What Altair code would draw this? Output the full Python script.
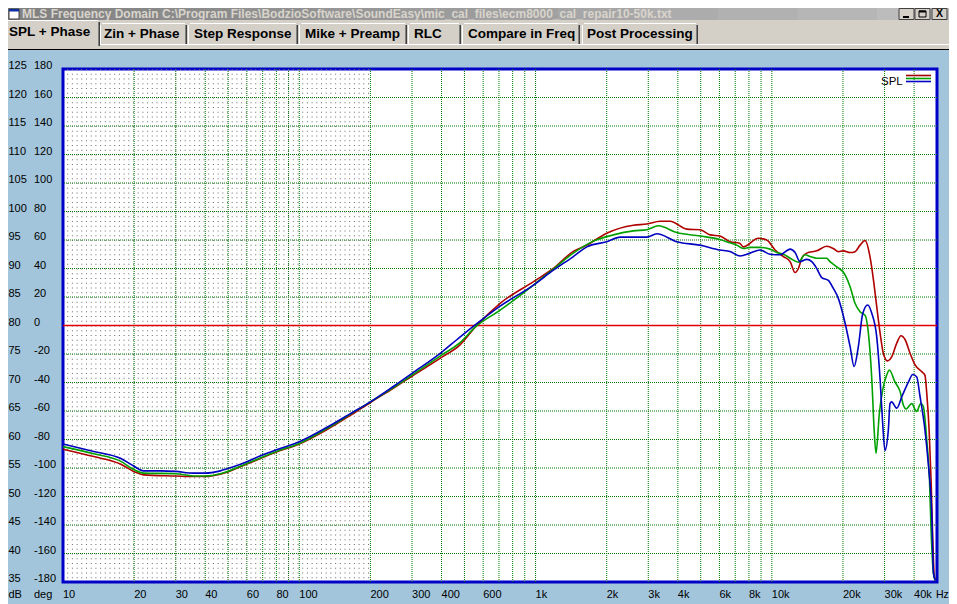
import altair as alt
import pandas as pd
import numpy as np

# ---------------- data ----------------
red_freq = [10, 13.5, 17.5, 20, 21.9, 30, 35.6, 40, 46.3, 60, 80, 100, 130.6, 164, 200,
            250, 300, 400, 479, 555, 708, 980, 1189, 1445, 1648, 2000, 2596, 2959, 3366, 3710,
            4366, 4966, 5483, 6028, 6650, 7330, 7570, 8770, 9510, 10320, 11200, 11950, 12540, 12950, 13380,
            14050, 15490, 17070, 18210, 19100, 20080, 21440, 22500, 23620, 24800, 26020, 27040, 27790, 28730, 29650,
            30850, 32140, 33780, 35170, 36660, 38480, 40380, 43080, 44460, 45250, 46300, 47200, 47950, 48600, 49200]
red_db = [58.3, 57.0, 55.7, 54.35, 53.8, 53.6, 53.5, 53.5, 53.9, 55.7, 57.8, 59.2, 61.7, 64.2, 66.5,
          69.0, 71.1, 74.4, 76.6, 79.7, 83.9, 87.7, 90.0, 93.0, 94.1, 96.2, 97.6, 97.8, 98.3, 98.3,
          96.9, 96.8, 95.9, 95.7, 94.7, 94.4, 93.8, 95.3, 95.0, 93.25, 92.1, 91.2, 89.3, 90.0, 91.8,
          92.7, 93.1, 93.9, 93.5, 92.96, 93.1, 92.8, 92.96, 94.1, 94.9, 92.1, 87.4, 83.3, 78.6, 75.1,
          73.8, 74.5, 76.9, 78.2, 77.5, 75.1, 73.1, 71.9, 71.3, 68.1, 61.7, 52.9, 42.9, 36.5, 35.3]

green_freq = [10, 13.5, 17.5, 20, 21.9, 30, 35.6, 40, 46.3, 60, 80, 100, 130.6, 164, 200,
              250, 300, 400, 479, 555, 708, 980, 1189, 1445, 1758, 2134, 2596, 2959, 3311, 3957,
              4966, 6028, 6650, 7100, 7570, 8090, 8910, 9820, 10490, 11200, 11950, 12950, 13820, 14510, 15490,
              17070, 17630, 18820, 20420, 21440, 22500, 23620, 24800, 25860, 26500, 27100, 27600, 28510, 29450, 30620,
              31410, 33190, 34900, 36050, 37000, 39080, 41000, 42660, 43750, 45250, 46470, 47200, 48300, 49200]
green_db = [58.75, 57.5, 56.2, 54.7, 54.1, 54.0, 53.6, 53.6, 54.0, 55.8, 57.9, 59.3, 61.9, 64.4, 66.6,
            69.1, 71.3, 74.8, 77.0, 79.7, 82.7, 87.1, 89.9, 92.7, 94.8, 95.9, 96.6, 96.8, 97.5, 96.3,
            95.7, 95.1, 94.5, 94.1, 93.5, 93.7, 93.7, 93.4, 92.8, 92.5, 91.8, 91.1, 92.4, 92.1, 91.8,
            91.8, 91.2, 90.3, 88.9, 86.8, 83.9, 82.4, 81.8, 76.9, 70.4, 61.7, 57.6, 64.6, 68.7, 71.3,
            72.2, 70.1, 68.4, 66.0, 65.35, 66.3, 64.9, 66.3, 65.8, 59.9, 52.9, 44.1, 36.5, 35.3]

blue_freq = [10, 13.5, 17.5, 20, 21.9, 25.8, 30, 35.6, 40, 46.3, 52.6, 60, 68.2, 80, 100,
             130.6, 164, 200, 250, 300, 400, 464, 555, 708, 980, 1189, 1445, 1648, 2000, 2281,
             2959, 3258, 3957, 4966, 6028, 6650, 7344, 8090, 8910, 9820, 10840, 11950, 12540, 13150, 14050,
             14760, 15490, 16260, 17340, 18210, 19100, 20420, 21440, 22290, 23230, 24250, 25460, 26500, 27790, 28730,
             29450, 30100, 31120, 31630, 32140, 33780, 35480, 37870, 39470, 41000, 42400, 44460, 45920, 47500, 48300, 49200]
blue_db = [59.2, 57.9, 56.7, 55.3, 54.5, 54.5, 54.4, 54.1, 54.1, 54.5, 55.2, 56.1, 57.1, 58.2, 59.6,
           62.1, 64.5, 66.6, 69.3, 71.6, 75.3, 77.5, 80.1, 83.4, 87.1, 89.7, 92.1, 93.8, 94.7, 95.5,
           95.5, 96.1, 94.7, 94.1, 93.25, 93.0, 92.2, 92.7, 93.25, 92.5, 92.4, 93.4, 92.8, 91.2, 91.6,
           91.2, 90.0, 88.4, 87.9, 86.5, 84.8, 80.4, 76.3, 72.8, 76.3, 82.1, 83.6, 82.1, 78.0, 70.4,
           62.8, 58.1, 61.7, 66.3, 66.6, 65.5, 67.5, 70.1, 71.4, 71.0, 67.5, 61.7, 55.8, 47.0, 36.5, 35.3]

x_ticks = [10, 20, 30, 40, 60, 80, 100, 200, 300, 400, 600, 1000, 2000, 3000, 4000,
           6000, 8000, 10000, 20000, 30000, 40000]
x_tick_labels = ["10", "20", "30", "40", "60", "80", "100", "200", "300", "400", "600", "1k", "2k", "3k", "4k",
                 "6k", "8k", "10k", "20k", "30k", "40k"]
x_grid = [m * 10 ** e for e in (1, 2, 3) for m in range(1, 10)] + [10000, 20000, 30000, 40000]
db_ticks = list(range(35, 130, 5))
deg_labels = [str(v) for v in range(-180, 181, 20)]
tab_labels = ["SPL + Phase", "Zin + Phase", "Step Response", "Mike + Preamp", "RLC",
              "Compare in Freq", "Post Processing"]
window_title = ("MLS Frequency Domain  C:\\Program Files\\BodzioSoftware\\SoundEasy\\"
                "mic_cal_files\\ecm8000_cal_repair10-50k.txt")

# ---------------- layout / style ----------------
X0, Y0 = 63, 69          # absolute page position of the plot origin
W, H = 874, 513
SVG_W, SVG_H = 941, 596  # page is 957 wide with an 8px body margin
FONT = "Liberation Sans"
PANEL = "#a2c5db"
FACE = "#d4d0c8"
GRID = "#007800"

xs = alt.Scale(type="log", domain=[10, 50000], nice=False)
ys = alt.Scale(domain=[35, 125], nice=False, zero=False)
dummy = pd.DataFrame({"k": [0]})


def rect(x0, y0, x1, y1, **kw):
    return alt.Chart(dummy).mark_rect(**kw).encode(
        x=alt.value(x0 - X0), x2=alt.value(x1 - X0), y=alt.value(y0 - Y0), y2=alt.value(y1 - Y0))


def seg(x0, y0, x1, y1, color, w=1):
    return alt.Chart(dummy).mark_rule(color=color, strokeWidth=w).encode(
        x=alt.value(x0 - X0), x2=alt.value(x1 - X0), y=alt.value(y0 - Y0), y2=alt.value(y1 - Y0))


def txt(x, y, s, size=11, weight="normal", color="black", align="left", font=FONT):
    return alt.Chart(dummy).mark_text(text=s, fontSize=size, fontWeight=weight, color=color,
                                      align=align, baseline="middle", font=font).encode(
        x=alt.value(x - X0), y=alt.value(y - Y0))


layers = []
# window chrome
layers.append(rect(0, 0, 957, 49, fill=FACE))
n_strip = 12
for i in range(n_strip):
    c = int(130 + (188 - 130) * i / (n_strip - 1))
    layers.append(rect(957 * i / n_strip, 0, 957 * (i + 1) / n_strip + 0.5, 20,
                       fill="#%02x%02x%02x" % (c, c, c)))
layers.append(rect(9, 9, 19, 19, fill="white", stroke="#404040", strokeWidth=1))
layers.append(rect(9, 9, 19, 11.5, fill="#1030a0"))
layers.append(txt(22, 13.5, window_title, size=12, weight="bold", color="#d8d4cc"))
for bx0, bx1 in [(899, 914), (915, 930), (932, 947)]:
    layers.append(rect(bx0, 8.5, bx1, 19.5, fill=FACE, stroke="#404040", strokeWidth=1))
layers.append(seg(903, 17, 909, 17, "black", 2))
layers.append(rect(919, 11, 926, 17, fill=FACE, stroke="black", strokeWidth=1))
layers.append(seg(919, 11.5, 926, 11.5, "black", 2))
layers.append(txt(939.5, 14.2, "X", size=10.5, weight="bold", align="center"))

# tabs
tab_pos = [(3, 100, 9), (100, 187, 104), (188, 298, 194), (299, 407, 305), (408, 461, 414),
           (462, 580, 468), (582, 698, 587)]
layers.append(seg(0, 44.5, 957, 44.5, "white"))
for i, (lab, (tx0, tx1, ttx)) in enumerate(zip(tab_labels, tab_pos)):
    sel = i == 0
    ty0 = 20 if sel else 23
    ty1 = 46 if sel else 44
    if sel:
        layers.append(rect(tx0, ty0, tx1, 48, fill=FACE))
    layers.append(seg(tx0 + 0.5, ty0 + 2, tx0 + 0.5, ty1, "white"))
    layers.append(seg(tx0 + 2, ty0 + 0.5, tx1 - 2, ty0 + 0.5, "white"))
    layers.append(seg(tx1 - 1.5, ty0 + 2, tx1 - 1.5, ty1, "#808080"))
    layers.append(seg(tx1 - 0.5, ty0 + 2, tx1 - 0.5, ty1, "#404040"))
    layers.append(txt(ttx, 31.5 if sel else 33.5, lab, size=13.5, weight="bold"))

# panel frame
layers.append(seg(3, 49.5, 957, 49.5, "black"))

# grid
grid_x = [v for v in x_grid if v > 10]
layers.append(alt.Chart(pd.DataFrame({"f": grid_x})).mark_rule(
    color=GRID, strokeWidth=1, strokeDash=[1, 1]).encode(x=alt.X("f:Q", scale=xs, axis=None)))
grid_y = [v for v in db_ticks if 35 < v < 125 and v != 80]
layers.append(alt.Chart(pd.DataFrame({"db": grid_y})).mark_rule(
    color=GRID, strokeWidth=1, strokeDash=[1, 1]).encode(y=alt.Y("db:Q", scale=ys, axis=None)))

# fine dotted texture (10 Hz - 200 Hz band)
tex_px = np.arange(4.7, 307.0, 4.7)
tex_f = 10 ** (1 + tex_px / (W / np.log10(5000)))
layers.append(alt.Chart(pd.DataFrame({"f": tex_f})).mark_rule(
    color="#6a6a6a", strokeWidth=1, strokeDash=[1, 3.75]).encode(x=alt.X("f:Q", scale=xs, axis=None)))

# 80 dB reference line
layers.append(alt.Chart(pd.DataFrame({"db": [80]})).mark_rule(color="#e00000", strokeWidth=1.5).encode(
    y=alt.Y("db:Q", scale=ys, axis=None)))

# curves
for fr, db, col in [(red_freq, red_db, "#b00000"), (green_freq, green_db, "#00a000"),
                    (blue_freq, blue_db, "#0000c0")]:
    df = pd.DataFrame({"f": fr, "db": db})
    layers.append(alt.Chart(df).mark_line(color=col, strokeWidth=1.6, interpolate="monotone").encode(
        x=alt.X("f:Q", scale=xs, axis=None), y=alt.Y("db:Q", scale=ys, axis=None)))

# tick labels
ylab = pd.DataFrame({"db": db_ticks, "dbl": [str(v) for v in db_ticks], "deg": deg_labels})
layers.append(alt.Chart(ylab).mark_text(align="left", baseline="middle", font=FONT, fontSize=11,
                                        dy=-3, color="black").encode(
    y=alt.Y("db:Q", scale=ys, axis=None), x=alt.value(8.5 - X0), text="dbl:N"))
layers.append(alt.Chart(ylab).mark_text(align="left", baseline="middle", font=FONT, fontSize=11,
                                        dy=-3, color="black").encode(
    y=alt.Y("db:Q", scale=ys, axis=None), x=alt.value(34 - X0), text="deg:N"))
xlab = pd.DataFrame({"f": x_ticks, "lab": x_tick_labels})
layers.append(alt.Chart(xlab).mark_text(align="left", baseline="middle", font=FONT, fontSize=11,
                                        color="black").encode(
    x=alt.X("f:Q", scale=xs, axis=None), y=alt.value(594.5 - Y0), text="lab:N"))
layers.append(txt(8.5, 594.5, "dB"))
layers.append(txt(34, 594.5, "deg"))
layers.append(txt(936, 594.5, "Hz", size=10.5))

# legend
layers.append(txt(881, 81.5, "SPL", size=11.5))
for ly, lc in [(75.5, "#a00000"), (78.5, "#00a000"), (81.5, "#0000c0")]:
    layers.append(seg(906, ly, 931, ly, lc, 1.6))

chart = alt.layer(*layers).properties(
    width=W, height=H,
    padding={"left": X0 - 8, "top": Y0 - 8, "right": SVG_W - (X0 - 8) - W,
             "bottom": SVG_H - (Y0 - 8) - H},
    autosize=alt.AutoSizeParams(type="none"),
    background=PANEL,
).configure_view(fill="white", stroke="#0000c8", strokeWidth=3)

chart.save("out.html", embed_options={"renderer": "svg", "actions": False})
